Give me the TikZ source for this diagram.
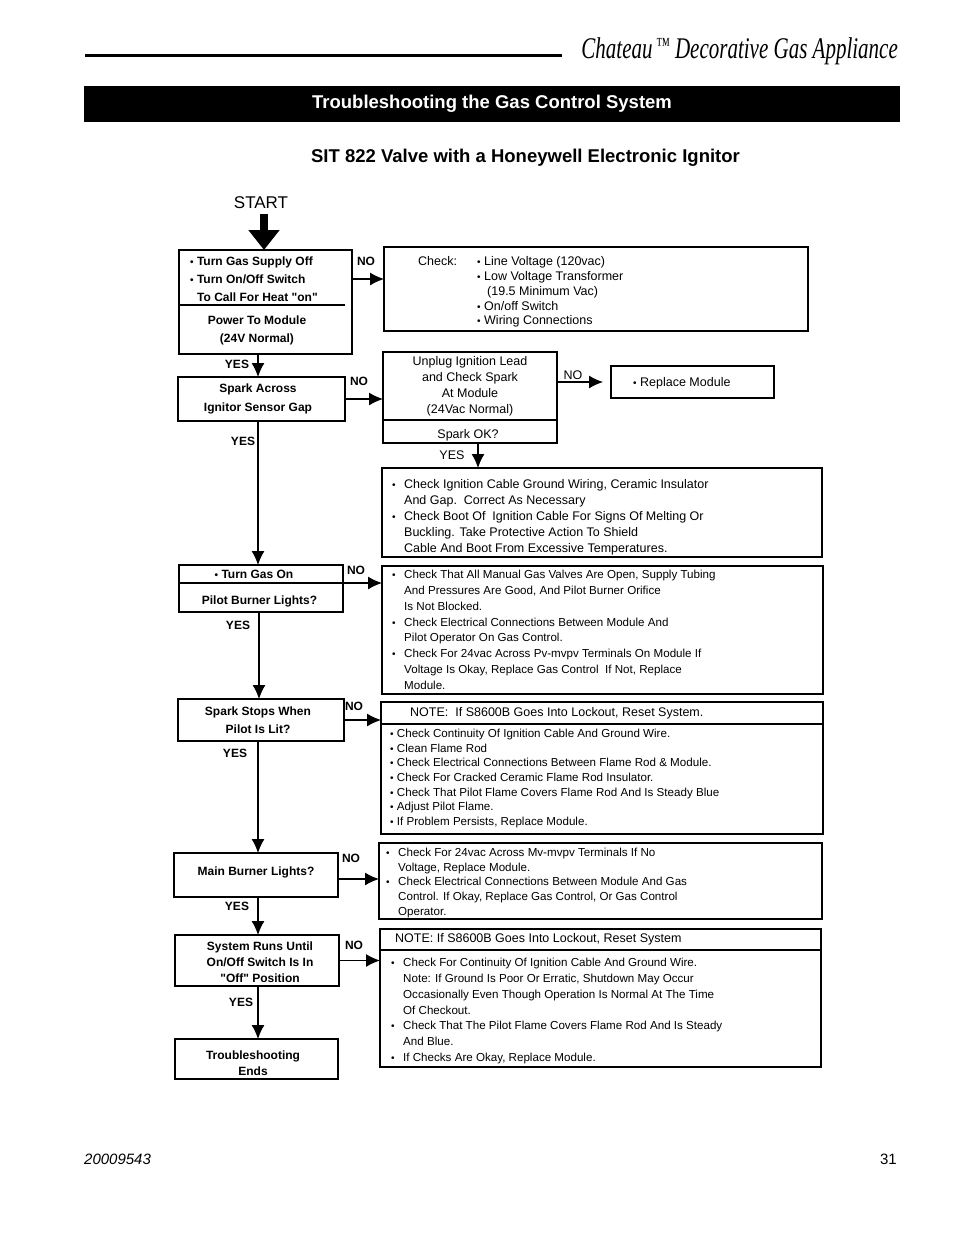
\documentclass[tikz,border=0pt]{standalone}
\usepackage{fontspec}
\usepackage{graphicx}
\setmainfont{Liberation Sans}
\newfontfamily\chateaufont{Liberation Serif}
\usetikzlibrary{arrows.meta}
\newcommand\bul{{\fontsize{10}{10}\selectfont\textbullet}}
\newcommand\itm{\makebox[12pt][l]{\bul}}
\newcommand\cnt{\hspace*{12pt}}

\begin{document}
\begin{tikzpicture}[x=1pt, y=-1pt,
	bx/.style={draw, line width=1.2pt, inner sep=0pt, outer sep=0pt},
	reg/.style={inner sep=0pt, font=\fontsize{12.5}{#1}\selectfont}, reg/.default=15pt,
	fine/.style={inner sep=0pt, align=left, font=\fontsize{11.6}{#1}\selectfont}, fine/.default=16pt,
	bld/.style={inner sep=0pt, font=\bfseries\fontsize{12}{#1}\selectfont}, bld/.default=18pt,
	arr/.style={line width=1.2pt, -{Latex[length=14pt,width=13pt]}}]
	\useasboundingbox (0,0) rectangle (954,1235);
	% Header, title bar and page footer:
	\draw[line width=3pt] (85,55) -- (562,55);
	\node[anchor=base east, inner sep=0pt, font=\chateaufont\itshape\fontsize{30}{30}\selectfont] (brand) at (898,58) {\scalebox{0.7}[1]{Chateau\,{\fontsize{20}{20}\selectfont\raisebox{7pt}{™}} Decorative Gas Appliance}};
	\node[fill=black, text=white, minimum width=816pt, minimum height=36pt, inner sep=0pt, font=\bfseries\fontsize{18.5}{18.5}\selectfont] (bar) at (492,104) {Troubleshooting the Gas Control System};
	\node[inner sep=0pt, font=\bfseries\fontsize{18.5}{18.5}\selectfont] (sub) at (525.5,157.5) {SIT 822 Valve with a Honeywell Electronic Ignitor};
	\node[inner sep=0pt, anchor=west, font=\itshape\fontsize{15}{15}\selectfont] (docno) at (84,1159) {20009543};
	\node[inner sep=0pt, anchor=east, font=\fontsize{15}{15}\selectfont] (page) at (897,1159) {31};
	\node[inner sep=0pt, font=\fontsize{17}{17}\selectfont] (start) at (261,203) {START};
	% Left column of tests:
	\node[bx, minimum width=173pt, minimum height=104pt] (power) at (265.5,302) {};
	\node[bld, anchor=north west, align=left] (powertxt) at (190,256.6) {\bul\ Turn Gas Supply Off\\\bul\ Turn On/Off Switch\\\hspace*{7pt}To Call For Heat \textquotedbl on\textquotedbl};
	\node[bld, anchor=north, align=center] (powerq) at (257,315.6) {Power To Module\\(24V Normal)};
	\node[bx, minimum width=167pt, minimum height=44pt] (spark) at (261.5,399) {};
	\node[bld=19pt, anchor=north, align=center] (sparktxt) at (258,383.6) {Spark Across\\Ignitor Sensor Gap};
	\node[bx, minimum width=164pt, minimum height=47pt] (pilot) at (261,588.5) {};
	\node[bld] (pilottxt) at (254,574) {\bul\ Turn Gas On};
	\node[bld] (pilotq) at (259.5,601) {Pilot Burner Lights?};
	\node[bx, minimum width=166pt, minimum height=42pt] (stops) at (261,720) {};
	\node[bld, anchor=north, align=center] (stopstxt) at (258,706.6) {Spark Stops When\\Pilot Is Lit?};
	\node[bx, minimum width=164pt, minimum height=44pt] (mainb) at (256,875) {};
	\node[bld] (mainbtxt) at (256,872) {Main Burner Lights?};
	\node[bx, minimum width=164pt, minimum height=51pt] (runs) at (257,960.5) {};
	\node[bld=16pt, anchor=north, align=center] (runstxt) at (260,941.6) {System Runs Until\\On/Off Switch Is In\\\textquotedbl Off\textquotedbl\ Position};
	\node[bx, minimum width=163pt, minimum height=40pt] (ends) at (256.5,1059) {};
	\node[bld=16pt, anchor=north, align=center] (endstxt) at (253,1050.6) {Troubleshooting\\Ends};
	% Right column of checks:
	\node[bx, minimum width=424pt, minimum height=84pt] (chk) at (596,289) {};
	\node[reg, anchor=west] (chkhd) at (418,261) {Check:};
	\node[reg=14.8pt, anchor=north west, align=left] (chklst) at (477,256.4) {\bul\ Line Voltage (120vac)\\\bul\ Low Voltage Transformer\\\hspace*{10pt}(19.5 Minimum Vac)\\\bul\ On/off Switch\\\bul\ Wiring Connections};
	\node[bx, minimum width=174pt, minimum height=91pt] (unplug) at (470,397.5) {};
	\node[reg=16pt, anchor=north, align=center] (unplugtxt) at (470,356.4) {Unplug Ignition Lead\\and Check Spark\\At Module\\(24Vac Normal)};
	\node[reg] (unplugq) at (468,435) {Spark OK?};
	\node[bx, minimum width=163pt, minimum height=32pt] (repl) at (692.5,382) {};
	\node[reg, anchor=west] (repltxt) at (633,383) {\bul\ Replace Module};
	\node[bx, minimum width=440pt, minimum height=89pt] (cable) at (602,512.5) {};
	\node[reg=16pt, anchor=north west, align=left] (cabletxt) at (392,479.4) {\itm Check Ignition Cable Ground Wiring, Ceramic Insulator\\\cnt And Gap.\ \ Correct As Necessary\\\itm Check Boot Of\ \ Ignition Cable For Signs Of Melting Or\\\cnt Buckling. Take Protective Action To Shield\\\cnt Cable And Boot From Excessive Temperatures.};
	\node[bx, minimum width=441pt, minimum height=128pt] (gas) at (602.5,630) {};
	\node[fine=15.9pt, anchor=north west] (gastxt) at (392,569.7) {\itm Check That All Manual Gas Valves Are Open, Supply Tubing\\\cnt And Pressures Are Good, And Pilot Burner Orifice\\\cnt Is Not Blocked.\\\itm Check Electrical Connections Between Module And\\\cnt Pilot Operator On Gas Control.\\\itm Check For 24vac Across Pv-mvpv Terminals On Module If\\\cnt Voltage Is Okay, Replace Gas Control\ \ If Not, Replace\\\cnt Module.};
	\node[bx, minimum width=442pt, minimum height=132pt] (flame) at (602,768) {};
	\node[reg, anchor=west] (flamenote) at (410,713) {NOTE:\ \ If S8600B Goes Into Lockout, Reset System.};
	\node[fine=14.7pt, anchor=north west] (flametxt) at (390,728.7) {\bul\ Check Continuity Of Ignition Cable And Ground Wire.\\\bul\ Clean Flame Rod\\\bul\ Check Electrical Connections Between Flame Rod \& Module.\\\bul\ Check For Cracked Ceramic Flame Rod Insulator.\\\bul\ Check That Pilot Flame Covers Flame Rod And Is Steady Blue\\\bul\ Adjust Pilot Flame.\\\bul\ If Problem Persists, Replace Module.};
	\node[bx, minimum width=443pt, minimum height=76pt] (valve) at (600.5,881) {};
	\node[fine=14.75pt, anchor=north west] (valvetxt) at (386,847.7) {\itm Check For 24vac Across Mv-mvpv Terminals If No\\\cnt Voltage, Replace Module.\\\itm Check Electrical Connections Between Module And Gas\\\cnt Control. If Okay, Replace Gas Control, Or Gas Control\\\cnt Operator.};
	\node[bx, minimum width=441pt, minimum height=138pt] (ground) at (600.5,998) {};
	\node[reg, anchor=west] (groundnote) at (395,939) {NOTE: If S8600B Goes Into Lockout, Reset System};
	\node[fine=15.9pt, anchor=north west] (groundtxt) at (391,957.7) {\itm Check For Continuity Of Ignition Cable And Ground Wire.\\\cnt Note: If Ground Is Poor Or Erratic, Shutdown May Occur\\\cnt Occasionally Even Though Operation Is Normal At The Time\\\cnt Of Checkout.\\\itm Check That The Pilot Flame Covers Flame Rod And Is Steady\\\cnt And Blue.\\\itm If Checks Are Okay, Replace Module.};
	% Dividers:
	\draw[line width=1.2pt] ([yshift=-3pt]power.west) -- ([yshift=-3pt,xshift=-7pt]power.east);
	\draw[line width=1.2pt] ([yshift=-22.5pt]unplug.west) -- ([yshift=-22.5pt]unplug.east);
	\draw[line width=1.2pt] ([yshift=5.5pt]pilot.west) -- ([yshift=5.5pt]pilot.east);
	\draw[line width=1.2pt] ([yshift=44pt]flame.west) -- ([yshift=44pt]flame.east);
	\draw[line width=1.2pt] ([yshift=48pt]ground.west) -- ([yshift=48pt]ground.east);
	% Wires:
	\draw[line width=8pt, shorten <=5pt, -{Triangle[length=20pt,width=30pt]}] ([xshift=3pt]start.south) -- ([xshift=-1.5pt]power.north);
	\coordinate (y1) at ([xshift=-7.5pt]power.south);
	\coordinate (y2) at ([xshift=-3.5pt]spark.south);
	\coordinate (y3) at ([xshift=8pt]unplug.south);
	\coordinate (y4) at ([xshift=-2pt]pilot.south);
	\coordinate (y5) at ([xshift=-3pt]stops.south);
	\coordinate (y6) at ([xshift=2pt]mainb.south);
	\coordinate (y7) at ([xshift=1pt]runs.south);
	\coordinate (n1) at ([yshift=23pt]power.east);
	\coordinate (n2) at ([yshift=5.5pt]pilot.east);
	\coordinate (n3) at ([yshift=-4pt]mainb.east);
	\draw[arr] (y1) -- (y1 |- spark.north);
	\draw[arr] (y2) -- (y2 |- pilot.north);
	\draw[arr] (y3) -- (y3 |- cable.north);
	\draw[arr] (y4) -- (y4 |- stops.north);
	\draw[arr] (y5) -- (y5 |- mainb.north);
	\draw[arr] (y6) -- (y6 |- runs.north);
	\draw[arr] (y7) -- (y7 |- ends.north);
	\draw[arr] (n1) -- (n1 -| chk.west);
	\draw[arr] (spark.east) -- (spark.east -| unplug.west);
	\draw[arr, shorten >=8pt] (unplug.east |- repl.west) -- (repl.west);
	\draw[arr] (n2) -- (n2 -| gas.west);
	\draw[arr] (stops.east) -- (stops.east -| flame.west);
	\draw[arr] (n3) -- (n3 -| valve.west);
	\draw[arr] (runs.east) -- (runs.east -| ground.west);
	% Yes / no labels:
	\node[bld] (no1) at (366,261) {NO};
	\node[bld] (yes1) at (237,364) {YES};
	\node[bld] (no2) at (359,381) {NO};
	\node[reg] (no3) at (573,375) {NO};
	\node[reg] (yes3) at (452,455) {YES};
	\node[bld] (yes2) at (243,441) {YES};
	\node[bld] (no4) at (356,570) {NO};
	\node[bld] (yes4) at (238,625) {YES};
	\node[bld] (no5) at (354,706) {NO};
	\node[bld] (yes5) at (235,753) {YES};
	\node[bld] (no6) at (351,858) {NO};
	\node[bld] (yes6) at (237,906) {YES};
	\node[bld] (no7) at (354,945) {NO};
	\node[bld] (yes7) at (241,1002) {YES};
\end{tikzpicture}
\end{document}
